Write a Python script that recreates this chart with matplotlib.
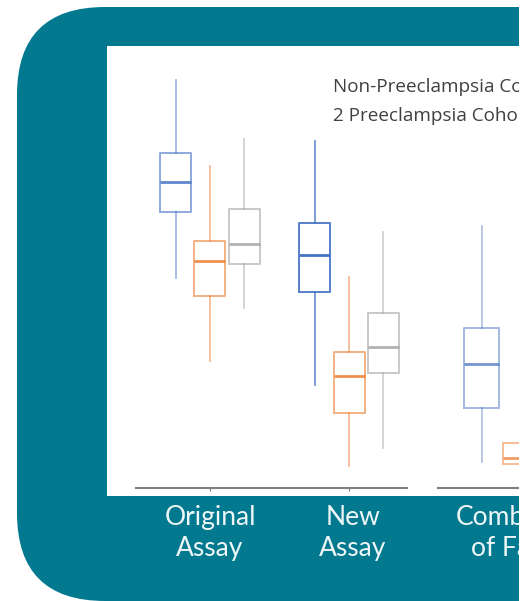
import matplotlib.pyplot as plt
from matplotlib.patches import FancyBboxPatch, Rectangle

# box statistics: whisker low, q1, median, q3, whisker high
groups = ["Original\nAssay", "New\nAssay", "Combination\nof Factors"]
non_pe = [[49.1, 64.5, 71.5, 78.3, 95.3],
          [24.1, 45.8, 54.4, 61.9, 81.1],
          [6.1, 18.7, 29.0, 37.4, 61.2]]
pe_cohort1 = [[29.7, 44.9, 53.0, 57.7, 75.2],
              [5.1, 17.5, 26.2, 31.8, 49.3],
              [4.2, 5.6, 7.0, 10.5, 14.0]]
pe_cohort2 = [[42.1, 52.3, 57.0, 65.2, 81.5],
              [9.3, 26.9, 32.9, 40.9, 59.8]]
legend_labels = ["Non-Preeclampsia Cohort", "2 Preeclampsia Cohorts"]

teal = "#03798f"
blue, orange, gray = "#4472C4", "#ED7D31", "#A5A5A5"
blue_alpha = [0.6, 0.9, 0.5]

W, H = 522, 601
fig = plt.figure(figsize=(W / 100, H / 100), dpi=100)
fig.patch.set_facecolor("white")

# slide background drawn in pixel units
bg = fig.add_axes([0, 0, 1, 1])
bg.set_xlim(0, W)
bg.set_ylim(H, 0)
bg.axis("off")
bg.add_patch(FancyBboxPatch((17, 7), 800, 594, boxstyle="round,pad=0,rounding_size=88",
                            fc=teal, ec="none"))
bg.add_patch(Rectangle((107, 46), 600, 450, fc="white", ec="none"))

for txt, y in zip(legend_labels, [87, 116]):
    bg.text(333, y, txt, fontsize=13.6, family="Open Sans", color="#404040", va="center", ha="left")

label_x = [210, 353, 530]
for lbl, x in zip(groups, label_x):
    bg.text(x, 533, lbl, fontsize=19, family="Lato", color="#eef6f7", ha="center",
            va="center", linespacing=1.3)


def pixel_axes(x0, x1, y_top, y_bot):
    return fig.add_axes([x0 / W, (H - y_bot) / H, (x1 - x0) / W, (y_bot - y_top) / H])


def draw_box(ax, pos, stats, color, alpha, width):
    lo, q1, med, q3, hi = stats
    ax.bxp([dict(whislo=lo, q1=q1, med=med, q3=q3, whishi=hi, fliers=[])],
           positions=[pos], widths=width, showcaps=False, showfliers=False,
           boxprops=dict(color=color, lw=1.4, alpha=alpha),
           whiskerprops=dict(color=color, lw=1.3, alpha=alpha * 0.85),
           medianprops=dict(color=color, lw=2.0, alpha=min(1, alpha + 0.25)))


def style_axes(ax, xlim):
    ax.set_xlim(*xlim)
    ax.set_ylim(0, 100)
    ax.patch.set_alpha(0)
    for side in ["left", "right", "top"]:
        ax.spines[side].set_visible(False)
    ax.spines["bottom"].set_color("#7f7f7f")
    ax.spines["bottom"].set_linewidth(1.5)
    ax.set_yticks([])
    ax.tick_params(axis="x", length=2, color="#7f7f7f", labelbottom=False)


off, bw = 0.247, 0.223

# first panel: original and new assays
ax1 = pixel_axes(136, 407, 60, 488)
for i in range(2):
    draw_box(ax1, i - off, non_pe[i], blue, blue_alpha[i], bw)
    draw_box(ax1, i, pe_cohort1[i], orange, 0.6, bw)
    draw_box(ax1, i + off, pe_cohort2[i], gray, 0.6, bw)
style_axes(ax1, (-0.532, 1.417))
ax1.set_xticks([0, 1])

# second panel: combination
ax2 = pixel_axes(438, 700, 60, 488)
draw_box(ax2, -off, non_pe[2], blue, blue_alpha[2], bw)
draw_box(ax2, 0, pe_cohort1[2], orange, 0.5, bw)
style_axes(ax2, (-0.529, 1.161))
ax2.set_xticks([0])

# thin white margin on the right edge
fig.add_artist(Rectangle((519 / W, 0), 3 / W, 1, transform=fig.transFigure,
                         fc="white", ec="none", zorder=10))

fig.savefig("out.png", dpi=100)
